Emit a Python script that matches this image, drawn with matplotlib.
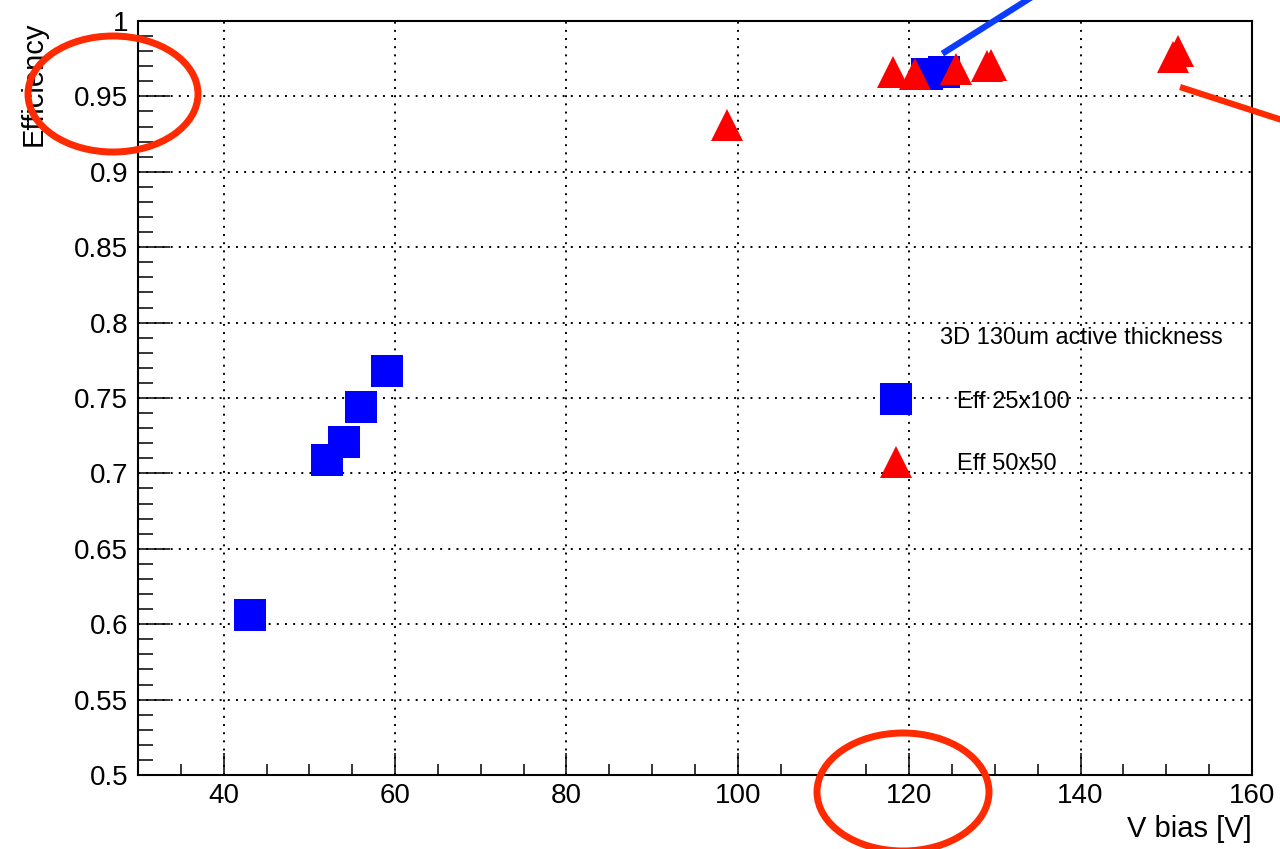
import matplotlib
matplotlib.use("Agg")
import matplotlib.pyplot as plt
from matplotlib.lines import Line2D
from matplotlib.patches import Ellipse
from matplotlib.ticker import MultipleLocator

plt.rcParams['font.family'] = ['Liberation Sans', 'DejaVu Sans']

# Efficiency vs bias voltage, 3D sensors, 130um active thickness
v_25x100 = [43.1, 52.1, 54.0, 56.0, 59.1, 122.1, 124.1]
eff_25x100 = [0.606, 0.709, 0.721, 0.744, 0.768, 0.965, 0.966]

v_50x50 = [98.75, 118.1, 120.7, 125.5, 129.1, 129.6, 150.8, 151.4]
eff_50x50 = [0.931, 0.966, 0.965, 0.968, 0.970, 0.971, 0.976, 0.980]

labels = ['Eff 25x100', 'Eff 50x50']

W, H = 1280, 849
fig = plt.figure(figsize=(W / 100, H / 100), dpi=100)
ax = fig.add_axes([138 / W, 1 - 775 / H, (1252 - 138) / W, (775 - 21) / H])

h1, = ax.plot(v_25x100, eff_25x100, ls='none', marker='s', ms=23,
              color='#0000ff', mew=0, zorder=3)
h2, = ax.plot(v_50x50, eff_50x50, ls='none', marker='^', ms=22.5,
              color='#ff0000', mew=0, zorder=4)

ax.set_xlim(30, 160)
ax.set_ylim(0.5, 1.0)
ax.xaxis.set_major_locator(MultipleLocator(20))
ax.xaxis.set_minor_locator(MultipleLocator(5))
ax.yaxis.set_major_locator(MultipleLocator(0.05))
ax.yaxis.set_minor_locator(MultipleLocator(0.01))
ax.yaxis.set_major_formatter(matplotlib.ticker.FuncFormatter(lambda v, p: f"{v:g}"))

ax.grid(True, which='major', color='black', ls=(0, (1, 3.2)), lw=1.4)
ax.set_axisbelow(True)

ax.tick_params(which='both', direction='in', top=False, right=False,
               labelsize=20, width=1.1, color='black')
ax.tick_params(axis='y', which='major', length=23, pad=7)
ax.tick_params(axis='y', which='minor', length=11)
ax.tick_params(axis='x', which='major', length=16, pad=6)
ax.tick_params(axis='x', which='minor', length=8)
for s in ax.spines.values():
    s.set_linewidth(1.5)
    s.set_color('black')

ax.set_xlabel('V bias [V]', fontsize=21, loc='right', labelpad=4)
ax.set_ylabel('Efficiency', fontsize=21, loc='top', labelpad=19)

# legend
leg = ax.legend([h1, h2], labels, loc='center left', frameon=False,
                bbox_to_anchor=(879.5 / W, 1 - 433 / H),
                bbox_transform=fig.transFigure, fontsize=17,
                handlelength=1.4, handletextpad=1.89, labelspacing=1.72,
                borderpad=0, borderaxespad=0)
fig.text(940 / W, 1 - 338 / H, '3D 130um active thickness', fontsize=17,
         ha='left', va='center')

# hand-drawn annotations on top of the plot
red = '#ff2a00'
fig.add_artist(Ellipse((113 / W, 1 - 94 / H), 170 / W, 116 / H,
                       transform=fig.transFigure, fill=False,
                       ec=red, lw=5, zorder=10))
fig.add_artist(Ellipse((903 / W, 1 - 792 / H), 172 / W, 118 / H,
                       transform=fig.transFigure, fill=False,
                       ec=red, lw=5, zorder=10))
fig.add_artist(Line2D([945 / W, 1035 / W], [1 - 52 / H, 1 + 5 / H],
                      transform=fig.transFigure, color='#0a3cff',
                      lw=4.5, zorder=10))
fig.add_artist(Line2D([1183 / W, 1285 / W], [1 - 88 / H, 1 - 121 / H],
                      transform=fig.transFigure, color=red,
                      lw=4.5, zorder=10))

fig.savefig('out.png', dpi=100)
